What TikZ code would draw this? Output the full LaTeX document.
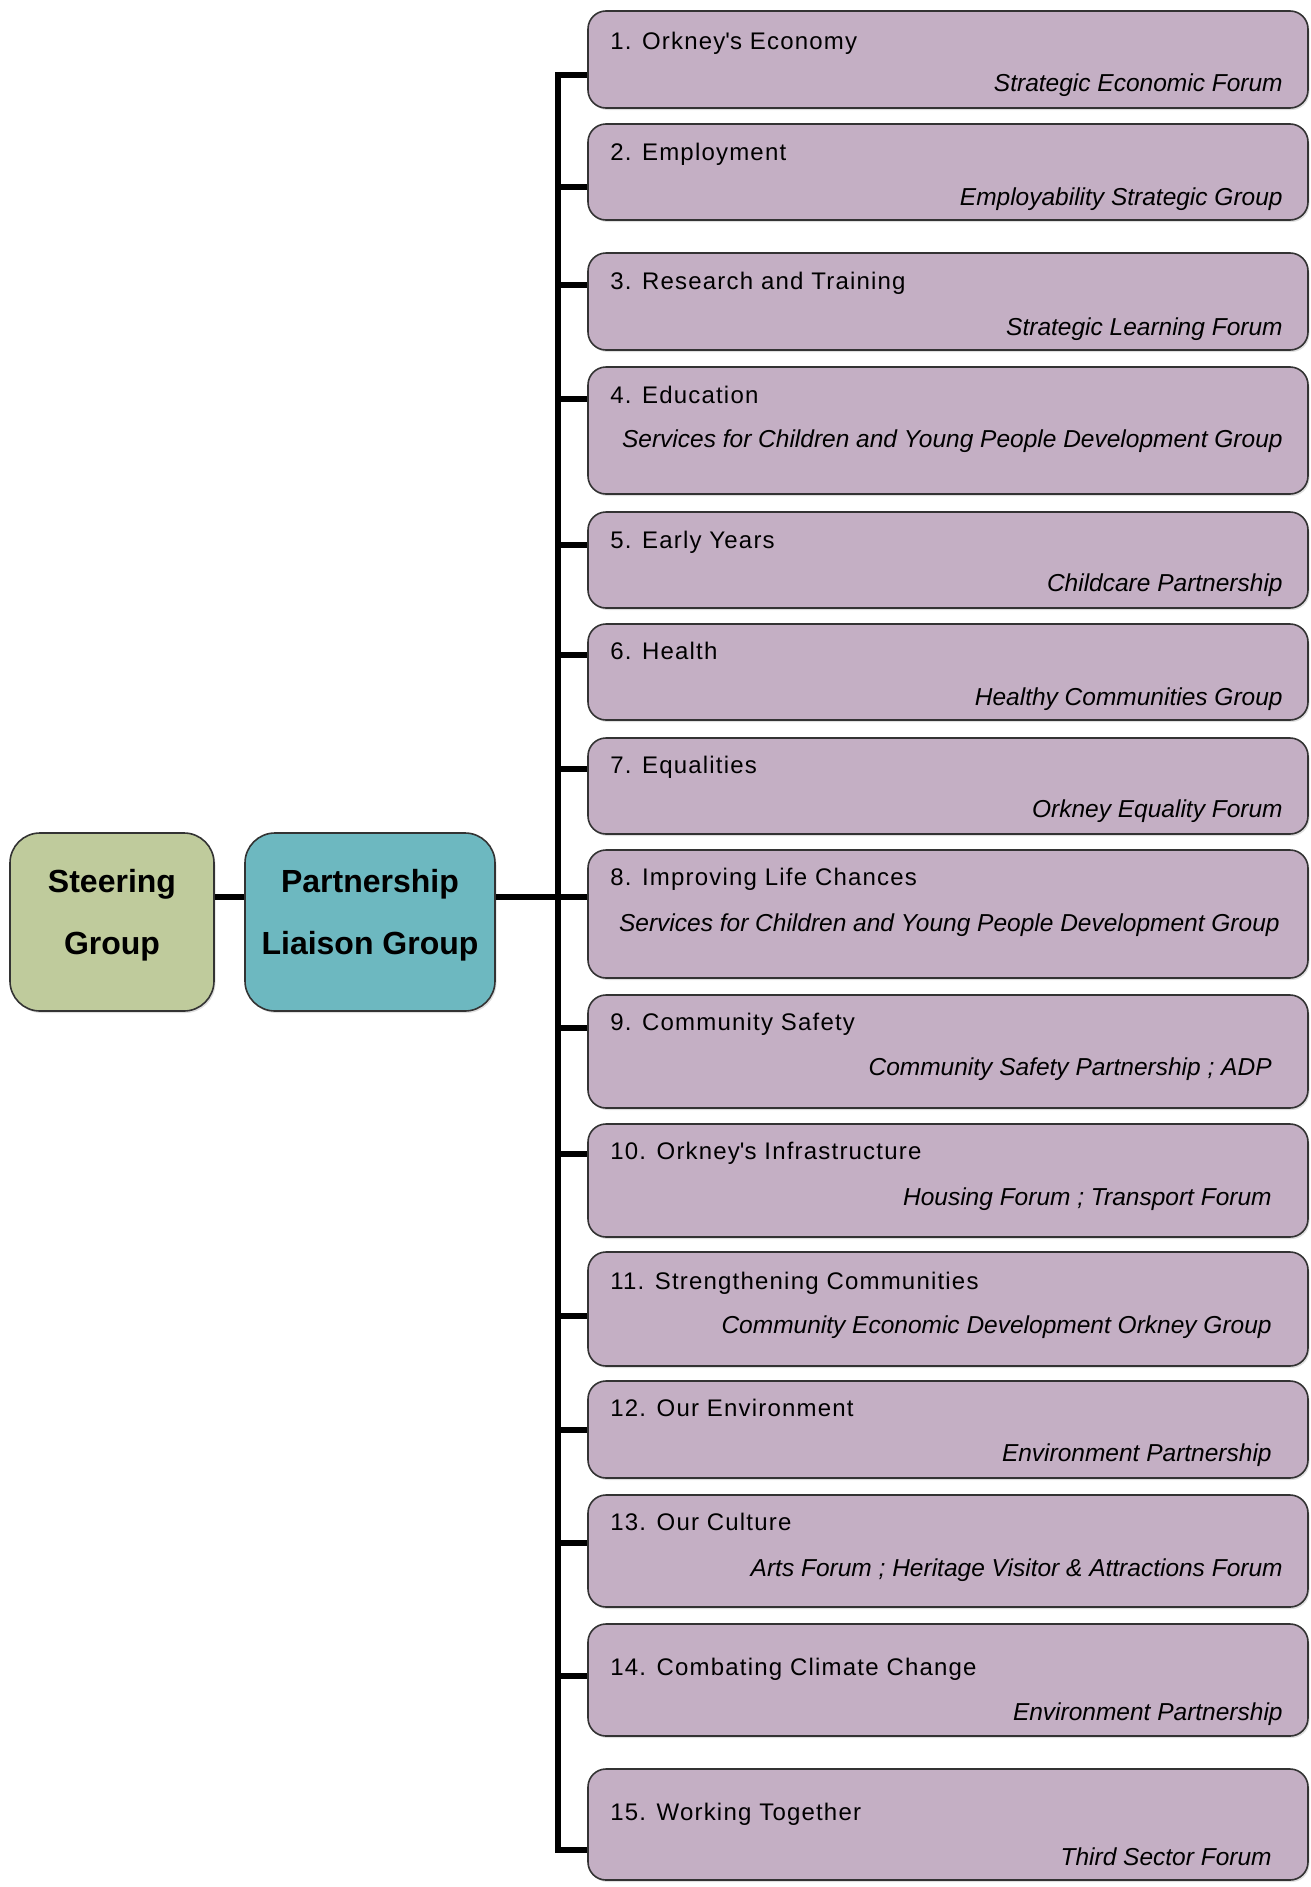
\documentclass[tikz,border=0pt]{standalone}
\usepackage{fontspec}
\setmainfont{Liberation Sans}
\newfontfamily\headfont[LetterSpace=5]{Liberation Sans}
\usepackage{tikz}
\usetikzlibrary{shadows}
\definecolor{topicpurple}{HTML}{C4AFC4}
\definecolor{steergreen}{HTML}{BFCB9C}
\definecolor{liaisonteal}{HTML}{6DB8C0}
\tikzset{every picture/.style={line width=0.75pt}}

\begin{document}
\begin{tikzpicture}[x=1pt,y=-1pt,
    topic/.style={draw=black!80, line width=1.6pt, fill=topicpurple, rounded corners=18pt, minimum width=720pt, inner sep=0pt,
        drop shadow={shadow xshift=1.5pt, shadow yshift=-2pt, opacity=0.25}},
    group/.style={draw=black!80, line width=1.6pt, rounded corners=30pt, minimum height=178pt, align=center, text depth=21pt,
        font=\bfseries\fontsize{32}{62}\selectfont, drop shadow={shadow xshift=1.5pt, shadow yshift=-2pt, opacity=0.25}},
    head/.style={anchor=west, inner sep=0pt, text height=18pt, text depth=0pt, font=\headfont\fontsize{24}{28}\selectfont},
    lead/.style={anchor=east, inner sep=0pt, text height=18pt, text depth=0pt, font=\itshape\fontsize{24.5}{28}\selectfont},
    link/.style={line width=6.5pt}]
    \useasboundingbox (0,0) rectangle (1310,1887);

    % left hand groups
    \node[group, fill=steergreen, minimum width=204pt] (sg) at (112,922) {Steering\\Group};
    \node[group, fill=liaisonteal, minimum width=250pt] (pl) at (370,922) {Partnership\\Liaison Group};

    % outcome boxes
    \node[topic, minimum height=97pt] (t1) at (948,59.5) {};
    \node[topic, minimum height=96pt] (t2) at (948,172) {};
    \node[topic, minimum height=97pt] (t3) at (948,301.5) {};
    \node[topic, minimum height=127pt] (t4) at (948,430.5) {};
    \node[topic, minimum height=96pt] (t5) at (948,560) {};
    \node[topic, minimum height=96pt] (t6) at (948,672) {};
    \node[topic, minimum height=96pt] (t7) at (948,786) {};
    \node[topic, minimum height=128pt] (t8) at (948,914) {};
    \node[topic, minimum height=113pt] (t9) at (948,1051.5) {};
    \node[topic, minimum height=113pt] (t10) at (948,1180.5) {};
    \node[topic, minimum height=114pt] (t11) at (948,1309) {};
    \node[topic, minimum height=97pt] (t12) at (948,1429.5) {};
    \node[topic, minimum height=112pt] (t13) at (948,1551) {};
    \node[topic, minimum height=112pt] (t14) at (948,1680) {};
    \node[topic, minimum height=111pt] (t15) at (948,1824.5) {};

    \node[head] (h1) at (610,40) {1. Orkney\textquotesingle s Economy};
    \node[lead] (s1) at (1283,82) {Strategic Economic Forum};
    \node[head] (h2) at (610,151) {2. Employment};
    \node[lead] (s2) at (1283,196) {Employability Strategic Group};
    \node[head] (h3) at (610,280) {3. Research and Training};
    \node[lead] (s3) at (1283,326) {Strategic Learning Forum};
    \node[head] (h4) at (610,394) {4. Education};
    \node[lead] (s4) at (1283,438) {Services for Children and Young People Development Group};
    \node[head] (h5) at (610,539) {5. Early Years};
    \node[lead] (s5) at (1283,582) {Childcare Partnership};
    \node[head] (h6) at (610,650) {6. Health};
    \node[lead] (s6) at (1283,696) {Healthy Communities Group};
    \node[head] (h7) at (610,764) {7. Equalities};
    \node[lead] (s7) at (1283,808) {Orkney Equality Forum};
    \node[head] (h8) at (610,876) {8. Improving Life Chances};
    \node[lead] (s8) at (1280,922) {Services for Children and Young People Development Group};
    \node[head] (h9) at (610,1021) {9. Community Safety};
    \node[lead] (s9) at (1272,1066) {Community Safety Partnership ; ADP};
    \node[head] (h10) at (610,1150) {10. Orkney\textquotesingle s Infrastructure};
    \node[lead] (s10) at (1272,1196) {Housing Forum ; Transport Forum};
    \node[head] (h11) at (610,1280) {11. Strengthening Communities};
    \node[lead] (s11) at (1272,1324) {Community Economic Development Orkney Group};
    \node[head] (h12) at (610,1407) {12. Our Environment};
    \node[lead] (s12) at (1272,1452) {Environment Partnership};
    \node[head] (h13) at (610,1521) {13. Our Culture};
    \node[lead] (s13) at (1283,1567) {Arts Forum ; Heritage Visitor \& Attractions Forum};
    \node[head] (h14) at (610,1666) {14. Combating Climate Change};
    \node[lead] (s14) at (1283,1711) {Environment Partnership};
    \node[head] (h15) at (610,1811) {15. Working Together};
    \node[lead] (s15) at (1272,1856) {Third Sector Forum};

    % bus and branches
    \coordinate (k1) at (558,75);
    \coordinate (k2) at (558,187);
    \coordinate (k3) at (558,285);
    \coordinate (k4) at (558,399);
    \coordinate (k5) at (558,545);
    \coordinate (k6) at (558,655);
    \coordinate (k7) at (558,769);
    \coordinate (k8) at (558,897);
    \coordinate (k9) at (558,1028);
    \coordinate (k10) at (558,1154);
    \coordinate (k11) at (558,1316);
    \coordinate (k12) at (558,1430);
    \coordinate (k13) at (558,1543);
    \coordinate (k14) at (558,1676);
    \coordinate (k15) at (558,1850);

    \draw[link] (k1 -| t1.west) -- (k1) -- (k15) -- (k15 -| t15.west);
    \draw[link]
        (k2) -- (k2 -| t2.west)
        (k3) -- (k3 -| t3.west)
        (k4) -- (k4 -| t4.west)
        (k5) -- (k5 -| t5.west)
        (k6) -- (k6 -| t6.west)
        (k7) -- (k7 -| t7.west)
        (k8) -- (k8 -| t8.west)
        (k9) -- (k9 -| t9.west)
        (k10) -- (k10 -| t10.west)
        (k11) -- (k11 -| t11.west)
        (k12) -- (k12 -| t12.west)
        (k13) -- (k13 -| t13.west)
        (k14) -- (k14 -| t14.west)
        (sg.east |- k8) -- (pl.west |- k8)
        (pl.east |- k8) -- (k8);
\end{tikzpicture}
\end{document}
